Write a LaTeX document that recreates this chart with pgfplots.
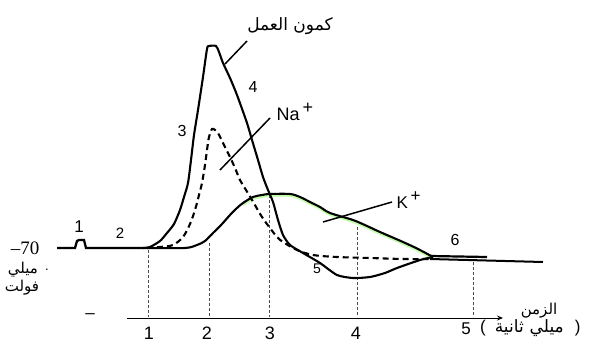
\documentclass[border=0pt]{standalone}
\usepackage{fontspec}
\setmainfont{Liberation Sans}
\newfontfamily\serifnum{Liberation Serif}
\newfontfamily\arabicfont[Script=Arabic]{DejaVu Sans}
\TeXXeTstate=1
\usepackage{pgfplots}
\pgfplotsset{compat=1.18}
\usetikzlibrary{arrows.meta}
\begin{document}
\begin{tikzpicture}
\begin{axis}[width=589pt,height=361pt,scale only axis,
  xmin=0,xmax=589,ymin=0,ymax=361,y dir=reverse,hide axis,clip=false]
% vertical guide lines
\addplot[gray!60!black,line width=0.7pt,dash pattern=on 3pt off 2pt] coordinates {(148,250) (148,317)};
\addplot[gray!60!black,line width=0.7pt,dash pattern=on 3pt off 2pt] coordinates {(209,243) (209,317)};
\addplot[gray!60!black,line width=0.7pt,dash pattern=on 3pt off 2pt] coordinates {(269,195) (269,317)};
\addplot[gray!60!black,line width=0.7pt,dash pattern=on 3pt off 2pt] coordinates {(357,227) (357,317)};
\addplot[gray!60!black,line width=0.7pt,dash pattern=on 3pt off 2pt] coordinates {(473,262) (473,317)};
% time axis
\addplot[black,line width=1pt,-{Stealth[length=6pt,width=5pt,fill=blue!60!red]}] coordinates {(127,318) (503,318)};
% green tint under K+ curve
\addplot[green!70!yellow,opacity=0.35,line width=1.8pt,smooth] coordinates {
(243,205) (253,199) (262,197) (270,196) (290,196) (300,199) (310,204) (320,209) (330,215) (353,222)
(367,228) (380,234) (403,244) (418,251) (433,259)};
% baseline with stimulus bump
\addplot[black,line width=2.3pt] coordinates {(57,248) (75,248) (77,241) (79,240) (84,240) (86,248) (150,248)};
% K+ curve
\addplot[black,line width=2.1pt,smooth] coordinates {
(150,248) (185,248) (197,245) (205,241) (213,233) (222,224) (230,215) (237,208) (243,203)
(253,197) (262,195) (270,194) (290,194) (300,197) (310,202) (320,207) (330,213) (353,220)
(367,226) (380,232) (403,242) (418,249) (433,257)};
% Na+ dashed curve
\addplot[black,line width=2.1pt,dash pattern=on 6pt off 4pt,smooth] coordinates {
(147,248) (160,247) (173,245) (183,237) (190,224) (195,210) (199,195) (202,183) (205,165)
(207,150) (209,137) (212,129) (215,130) (218,133) (224,145) (230,157) (235,168) (240,180)
(246,190) (252,200) (262,217) (270,228) (277,237) (283,242) (297,250) (313,255) (337,257)
(370,258) (403,259) (430,259)};
% action potential
\addplot[black,line width=2.1pt,smooth,tension=0.4] coordinates {
(143,248) (150,247) (160,241) (167,233) (174,224) (180,210) (184,197) (188,183) (191,160)
(194,135) (198,110) (203,77) (207,49) (209,46) (216,46) (219,52) (223,63) (230,78) (237,95)
(247,123) (252,140) (258,160) (263,177) (268,190) (273,202) (278,220) (283,235) (290,245)
(303,253) (320,263) (337,275) (353,278) (370,277) (385,273) (397,268) (420,260) (433,257)};
% resting end lines
\addplot[black,line width=2.2pt] coordinates {(430,256) (487,257)};
\addplot[black,line width=2pt] coordinates {(430,259) (543,262)};
% leader lines
\addplot[black,line width=1.5pt] coordinates {(247,41) (225,64)};
\addplot[black,line width=1.5pt] coordinates {(270,118) (220,170)};
\addplot[black,line width=1.5pt] coordinates {(323,222) (392,202)};
% labels
\node[font=\fontsize{17}{17}\selectfont] at (axis cs:290,26) {\arabicfont\beginR كمون العمل\endR};
\node[font=\fontsize{16}{16}\selectfont] at (axis cs:253,87) {4};
\node[font=\fontsize{18}{18}\selectfont,anchor=west] at (axis cs:273,112) {Na\,\raisebox{7pt}{+}};
\node[font=\fontsize{16}{16}\selectfont] at (axis cs:182,131) {3};
\node[font=\fontsize{17}{17}\selectfont,anchor=west] at (axis cs:393,200) {K\,\raisebox{7pt}{+}};
\node[font=\fontsize{14}{14}\selectfont] at (axis cs:317,269) {5};
\node[font=\fontsize{16}{16}\selectfont] at (axis cs:455,240) {6};
\node[font=\fontsize{17}{17}\selectfont] at (axis cs:79,227) {1};
\node[font=\fontsize{15}{15}\selectfont] at (axis cs:120,233) {2};
\node[font=\fontsize{19}{19}\selectfont\serifnum] at (axis cs:25,248) {–70};
\node[font=\fontsize{15}{15}\selectfont] at (axis cs:23,270) {\arabicfont\beginR ميلي\endR};
\node[font=\fontsize{13}{13}\selectfont] at (axis cs:47,270) {.};
\node[font=\fontsize{15}{15}\selectfont] at (axis cs:22,288) {\arabicfont\beginR فولت\endR};
\node[font=\fontsize{17}{17}\selectfont] at (axis cs:90,316) {–};
\node[font=\fontsize{18}{18}\selectfont] at (axis cs:149,333) {1};
\node[font=\fontsize{18}{18}\selectfont] at (axis cs:207,333) {2};
\node[font=\fontsize{18}{18}\selectfont] at (axis cs:270,333) {3};
\node[font=\fontsize{18}{18}\selectfont] at (axis cs:356,333) {4};
\node[font=\fontsize{17}{17}\selectfont] at (axis cs:466,329) {5};
\node[font=\fontsize{15}{15}\selectfont] at (axis cs:539,311) {\arabicfont\beginR الزمن\endR};
\node[font=\fontsize{17}{17}\selectfont,anchor=west,inner sep=0pt] at (axis cs:480,328) {(\hspace{9pt}{\arabicfont\beginR ميلي\hspace{6pt}ثانية\endR}\hspace{11pt})};
\end{axis}
\pgfresetboundingbox
\path[use as bounding box] (current axis.south west) rectangle (current axis.north east);
\end{tikzpicture}
\end{document}
